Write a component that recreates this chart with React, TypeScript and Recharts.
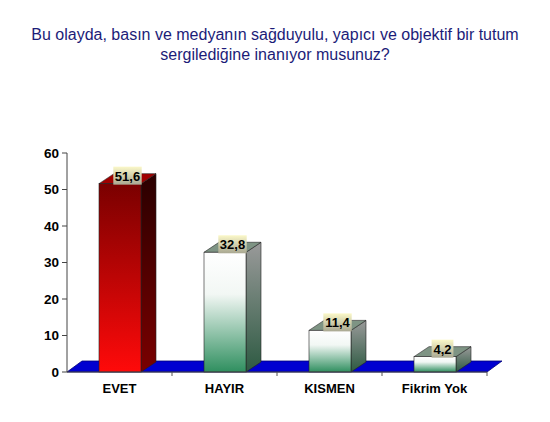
import React from 'react';
import { BarChart, Bar, XAxis, YAxis, ReferenceArea, LabelList } from 'recharts';

const categories = ['EVET', 'HAYIR', 'KISMEN', 'Fikrim Yok'];
const values = [51.6, 32.8, 11.4, 4.2];
const yTicks = [0, 10, 20, 30, 40, 50, 60];
const titleLines = [
  'Bu olayda, basın ve medyanın sağduyulu, yapıcı ve objektif bir tutum',
  'sergilediğine inanıyor musunuz?',
];

const data = categories.map((c, i) => ({ name: c, value: values[i] }));

const W = 550;
const H = 422;
const MARGIN = { top: 153, right: 63, bottom: 20, left: 10 };
const Y_AXIS_W = 57;
const X_AXIS_H = 30;
const PLOT_W = W - MARGIN.left - MARGIN.right - Y_AXIS_W;
const BAND = PLOT_W / categories.length;
const DX = 15;
const DY = 10;
const FONT = '"Liberation Sans", Arial, sans-serif';

const Bar3D = (props: any) => {
  const { x, y, width, height, index } = props;
  if (width == null || height == null) return null;
  const red = index === 0;
  const id = `b${index}`;
  const b = y + height;
  return (
    <g>
      <defs>
        <linearGradient id={`${id}f`} x1="0" y1="0" x2="0" y2="1">
          {red ? (
            <>
              <stop offset="0%" stopColor="#7a0000" />
              <stop offset="100%" stopColor="#ff0a0a" />
            </>
          ) : (
            <>
              <stop offset="0%" stopColor="#ffffff" />
              <stop offset="35%" stopColor="#f2f7f4" />
              <stop offset="100%" stopColor="#2f8f5f" />
            </>
          )}
        </linearGradient>
        <linearGradient id={`${id}s`} x1="0" y1="0" x2="0" y2="1">
          {red ? (
            <>
              <stop offset="0%" stopColor="#2a0000" />
              <stop offset="100%" stopColor="#7a0000" />
            </>
          ) : (
            <>
              <stop offset="0%" stopColor="#9a9a9a" />
              <stop offset="100%" stopColor="#2d5a42" />
            </>
          )}
        </linearGradient>
      </defs>
      <polygon
        points={`${x + width},${y} ${x + width + DX},${y - DY} ${x + width + DX},${b - DY} ${x + width},${b}`}
        fill={`url(#${id}s)`}
        stroke="#222"
        strokeWidth={0.6}
      />
      <polygon
        points={`${x},${y} ${x + DX},${y - DY} ${x + width + DX},${y - DY} ${x + width},${y}`}
        fill={red ? '#a00000' : '#7e9484'}
        stroke="#222"
        strokeWidth={0.6}
      />
      <rect x={x} y={y} width={width} height={height} fill={`url(#${id}f)`} stroke="#222" strokeWidth={0.6} />
    </g>
  );
};

const Floor = (props: any) => {
  const { x, y, width, height } = props;
  const b = y + height;
  return (
    <polygon
      points={`${x},${b} ${x + DX},${b - DY - 1} ${x + width + DX},${b - DY - 1} ${x + width},${b}`}
      fill="#0000d0"
      stroke="#00007a"
      strokeWidth={0.8}
    />
  );
};

const ValueLabel = (props: any) => {
  const { x, y, width, value } = props;
  const txt = String(value).replace('.', ',');
  const cx = x + width / 2 + DX / 2;
  const bw = txt.length * 6.6 + 2;
  const bh = 18;
  const top = y - 17;
  const gid = `lbl${String(value).replace('.', '_')}`;
  return (
    <g>
      <defs>
        <linearGradient id={gid} x1="0" y1="0" x2="0" y2="1">
          <stop offset="0%" stopColor="#fbf8c8" />
          <stop offset="100%" stopColor="#a9a892" />
        </linearGradient>
      </defs>
      <rect x={cx - bw / 2} y={top} width={bw} height={bh} fill={`url(#${gid})`} />
      <text
        x={cx}
        y={top + 14}
        textAnchor="middle"
        fontFamily={FONT}
        fontWeight="bold"
        fontSize={13}
        fill="#000"
      >
        {txt}
      </text>
    </g>
  );
};

const XTick = (props: any) => {
  const { x, y, payload } = props;
  return (
    <g>
      <line x1={x + BAND / 2} y1={y} x2={x + BAND / 2} y2={y + 4} stroke="#555" />
      <text x={x} y={y + 21} textAnchor="middle" fontFamily={FONT} fontWeight="bold" fontSize={13} fill="#000">
        {payload.value}
      </text>
    </g>
  );
};

export default function App() {
  return (
    <div style={{ position: 'absolute', left: 0, top: 0, width: W, height: H, background: '#fff' }}>
      <div
        style={{
          position: 'absolute',
          left: 0,
          top: 25,
          width: W,
          textAlign: 'center',
          fontFamily: FONT,
          fontSize: 16,
          lineHeight: '20px',
          color: '#1c1c78',
        }}
      >
        {titleLines.map((l) => (
          <div key={l}>{l}</div>
        ))}
      </div>
      <BarChart width={W} height={H} data={data} margin={MARGIN} barCategoryGap={0}>
        <ReferenceArea y1={0} y2={3} ifOverflow="visible" shape={<Floor />} />
        <XAxis
          dataKey="name"
          height={X_AXIS_H}
          tickLine={false}
          tickSize={0}
          tickMargin={0}
          axisLine={{ stroke: '#444' }}
          tick={<XTick />}
          interval={0}
        />
        <YAxis
          width={Y_AXIS_W}
          domain={[0, 60]}
          ticks={yTicks}
          interval={0}
          tickSize={5}
          tickMargin={3}
          axisLine={{ stroke: '#444' }}
          tickLine={{ stroke: '#444' }}
          tick={{ fontFamily: FONT, fontWeight: 'bold', fontSize: 13.5, fill: '#000' }}
        />
        <Bar dataKey="value" barSize={42} shape={<Bar3D />} isAnimationActive={false}>
          <LabelList dataKey="value" content={<ValueLabel />} />
        </Bar>
      </BarChart>
    </div>
  );
}
